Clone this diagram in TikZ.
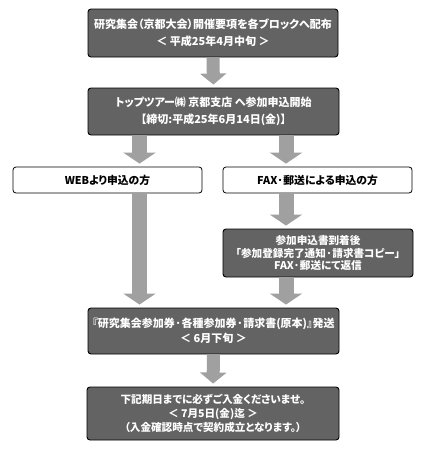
\documentclass[tikz,border=0pt]{standalone}
\usepackage{fontspec}
\setmainfont{Noto Sans CJK JP}[CharacterWidth=AlternateProportional]
\usetikzlibrary{arrows.meta}
\definecolor{boxdark}{HTML}{636363}
\definecolor{arrowgray}{HTML}{A0A0A0}
\begin{document}
\begin{tikzpicture}[x=1pt,y=-1pt,
  darkbox/.style={draw=black,line width=0.9pt,rounded corners=3pt,fill=boxdark,
    text=white,font=\bfseries\fontsize{11}{17.5}\selectfont,align=center,
    inner sep=0pt},
  whitebox/.style={draw=black,line width=0.8pt,rounded corners=3pt,fill=white,
    text=black,font=\bfseries\fontsize{10.8}{12}\selectfont,align=center,
    inner sep=0pt,minimum width=189pt,minimum height=26pt},
  flow/.style={draw=arrowgray,line width=13pt,shorten >=3pt,
    -{Triangle[width=26pt,length=11pt]}},
  flowwide/.style={draw=arrowgray,line width=15pt,shorten >=3pt,
    -{Triangle[width=32pt,length=11pt]}}]
\useasboundingbox (0,0) rectangle (421,458);
\coordinate (xl) at (139.5,0);
\coordinate (xr) at (286,0);

\node[darkbox,minimum width=250pt,minimum height=48pt] (b1) at (213,33)
  {研究集会（京都大会）開催要項を各ブロックへ配布\\＜ 平成25年4月中旬 ＞};
\node[darkbox,minimum width=251pt,minimum height=47pt] (b2) at (213.5,111.5)
  {トップツアー㈱ 京都支店 へ参加申込開始\\【締切:平成25年6月14日(金)】};
\node[whitebox] (web) at (107.5,180) {WEBより申込の方};
\node[whitebox] (fax) at (317.5,180) {FAX·郵送による申込の方};
\node[darkbox,minimum width=190pt,minimum height=48pt,
  font=\bfseries\fontsize{10.6}{12.4}\selectfont] (b4) at (318,253)
  {参加申込書到着後\\「参加登録完了通知·請求書コピー」\\FAX·郵送にて返信};
\node[darkbox,minimum width=251pt,minimum height=46pt,
  font=\bfseries\fontsize{11}{15}\selectfont] (b5) at (213.5,331)
  {『研究集会参加券·各種参加券·請求書(原本)』発送\\＜ 6月下旬 ＞};
\node[darkbox,minimum width=252pt,minimum height=53pt,
  font=\bfseries\fontsize{10.6}{14}\selectfont] (b6) at (213,413.5)
  {下記期日までに必ずご入金くださいませ。\\＜ 7月5日(金)迄 ＞\\（入金確認時点で契約成立となります。）};

\draw[flow] (b1.south) -- (b2.north);
\draw[flowwide] (b2.south -| xl) -- (web.north -| xl);
\draw[flowwide] (b2.south -| xr) -- (fax.north -| xr);
\draw[flowwide] (fax.south -| xr) -- (b4.north -| xr);
\draw[flowwide] (web.south -| xl) -- (b5.north -| xl);
\draw[flowwide] (b4.south -| xr) -- (b5.north -| xr);
\draw[flow] (b5.south) -- (b6.north);
\end{tikzpicture}
\end{document}
